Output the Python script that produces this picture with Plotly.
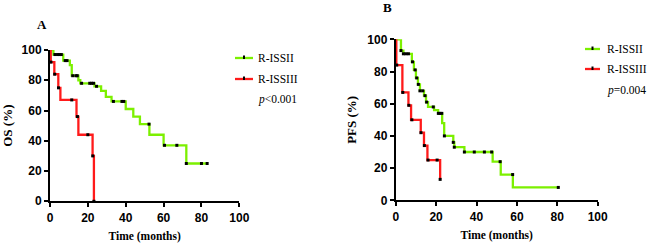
import plotly.graph_objects as go

# ---- data ----
a_green_t = [0, 1.8, 7, 10.5, 11.5, 15, 16, 23.5, 27, 29.5, 32.5, 40, 44, 47.5, 52.5, 60, 72, 83]
a_green_s = [100, 97, 93, 90, 83, 80, 78, 76, 73, 69, 66, 61, 56, 51, 44, 37, 25, 25]
a_green_cens = [2.6, 4, 5, 6, 8, 9, 12, 13.7, 14.4, 16.7, 21, 22, 23, 24.6, 33.5, 38, 39, 52.3, 60.5, 67, 72, 80, 83]

a_red_t = [0, 0.4, 2.3, 4.4, 5.5, 14, 15, 22.5, 23.2]
a_red_s = [100, 92, 84, 75, 67, 56, 44, 30, 0]
a_red_cens = [0.5, 2.5, 4.5, 11.5, 14.5, 20, 22.6, 23.2]

b_green_t = [0, 2.6, 3.8, 8, 9, 10, 11, 12, 14, 15, 16, 19, 21, 23, 24, 28.5, 29, 34, 48, 52, 58, 81]
b_green_s = [100, 93, 91, 86, 81, 76, 72, 68, 65, 61, 58, 56, 54, 48, 40, 36, 33, 30, 24, 16, 8, 8]
b_green_cens = [2.6, 3.8, 5, 6.3, 8.3, 9.6, 10.4, 11.2, 12, 13.4, 14.5, 15.3, 18.6, 21.1, 21.9, 22.8, 24.1,
                28.5, 29, 34, 38.9, 43.9, 47.5, 51.7, 57.9, 80.5]

b_red_t = [0, 0.3, 3.3, 6.3, 7.6, 12.4, 14, 15.7, 22]
b_red_s = [100, 84, 67, 59, 50, 42, 34, 25, 13]
b_red_cens = [0.5, 3.5, 6.5, 8, 12.5, 14.2, 16, 20.5, 22]

x_ticks = [0, 20, 40, 60, 80, 100]
y_ticks = [0, 20, 40, 60, 80, 100]
series_names = ["R-ISSII", "R-ISSIII"]
p_values = ["<i>p</i>&lt;0.001", "<i>p</i>=0.004"]

GREEN = "#7CF000"
RED = "#FF1A1A"
SERIF = "Liberation Serif, Times New Roman, serif"
SANS = "Liberation Sans Narrow, Arial Narrow, Liberation Sans, Arial, sans-serif"


def step_at(ts, ss, c):
    v = ss[0]
    for t, s in zip(ts, ss):
        if t <= c:
            v = s
    return v


fig = go.Figure()

panels = [
    (1, (a_green_t, a_green_s, a_green_cens), (a_red_t, a_red_s, a_red_cens)),
    (2, (b_green_t, b_green_s, b_green_cens), (b_red_t, b_red_s, b_red_cens)),
]

for idx, g, r in panels:
    xa = "x" if idx == 1 else "x2"
    ya = "y" if idx == 1 else "y2"
    for (ts, ss, cs), col in [(g, GREEN), (r, RED)]:
        fig.add_trace(go.Scatter(x=ts, y=ss, mode="lines", line=dict(color=col, width=2.3, shape="hv"),
                                 xaxis=xa, yaxis=ya, showlegend=False, hoverinfo="skip", cliponaxis=False))
        fig.add_trace(go.Scatter(x=cs, y=[step_at(ts, ss, c) for c in cs], mode="markers",
                                 marker=dict(symbol="square", size=3, color="black"),
                                 xaxis=xa, yaxis=ya, showlegend=False, hoverinfo="skip", cliponaxis=False))

axis_common = dict(range=[0, 100], showline=True, linecolor="black", linewidth=2,
                   ticks="outside", ticklen=4, tickwidth=2, tickcolor="black",
                   showgrid=False, zeroline=False, automargin=False,
                   tickfont=dict(family=SANS, size=12, color="black", weight="bold"),
                   tickvals=x_ticks, fixedrange=True)

fig.update_layout(
    width=650, height=248, margin=dict(l=0, r=0, t=0, b=0, autoexpand=False),
    paper_bgcolor="white", plot_bgcolor="white",
    xaxis=dict(axis_common, domain=[0.0769, 0.3682], anchor="y",
               title=dict(text="Time (months)", font=dict(family=SERIF, size=11.5, color="black", weight="bold"), standoff=8)),
    yaxis=dict(axis_common, domain=[0.1883, 0.7984], anchor="x", tickvals=y_ticks,
               title=dict(text="OS (%)", font=dict(family=SERIF, size=13, color="black", weight="bold"), standoff=8)),
    xaxis2=dict(axis_common, domain=[0.6088, 0.9195], anchor="y2",
                title=dict(text="Time (months)", font=dict(family=SERIF, size=11.5, color="black", weight="bold"), standoff=8)),
    yaxis2=dict(axis_common, domain=[0.1923, 0.8415], anchor="x2", tickvals=y_ticks,
                title=dict(text="PFS (%)", font=dict(family=SERIF, size=13, color="black", weight="bold"), standoff=8)),
)

# panel letters
fig.add_annotation(text="<b>A</b>", x=42 / 650, y=1 - 24 / 248, xref="paper", yref="paper", showarrow=False,
                   font=dict(family=SERIF, size=13, color="black"), xanchor="center", yanchor="middle")
fig.add_annotation(text="<b>B</b>", x=387 / 650, y=1 - 8 / 248, xref="paper", yref="paper", showarrow=False,
                   font=dict(family=SERIF, size=13, color="black"), xanchor="center", yanchor="middle")

# legends (drawn manually)
legends = [
    (235, 253, 256, [58, 79], 99, p_values[0]),
    (585, 600, 605, [49, 69], 90, p_values[1]),
]
for x0, x1, tx, ys, py, ptxt in legends:
    for name, col, yy in zip(series_names, [GREEN, RED], ys):
        fig.add_shape(type="line", xref="paper", yref="paper", x0=x0 / 650, x1=x1 / 650,
                      y0=1 - yy / 248, y1=1 - yy / 248, line=dict(color=col, width=2.3))
        fig.add_shape(type="rect", xref="paper", yref="paper",
                      x0=((x0 + x1) / 2 - 1) / 650, x1=((x0 + x1) / 2 + 1) / 650,
                      y0=1 - (yy + 1) / 248, y1=1 - (yy - 2.5) / 248,
                      fillcolor="black", line=dict(width=0))
        fig.add_annotation(text=name, x=tx / 650, y=1 - yy / 248, xref="paper", yref="paper", showarrow=False,
                           xanchor="left", yanchor="middle", font=dict(family=SERIF, size=11.5, color="black"))
    fig.add_annotation(text=ptxt, x=tx / 650, y=1 - py / 248, xref="paper", yref="paper", showarrow=False,
                       xanchor="left", yanchor="middle", font=dict(family=SERIF, size=11.5, color="black"))

fig.write_html("out.html", config={"displayModeBar": False, "staticPlot": True},
               post_script="document.body.style.margin='0';document.body.style.overflow='hidden';")
